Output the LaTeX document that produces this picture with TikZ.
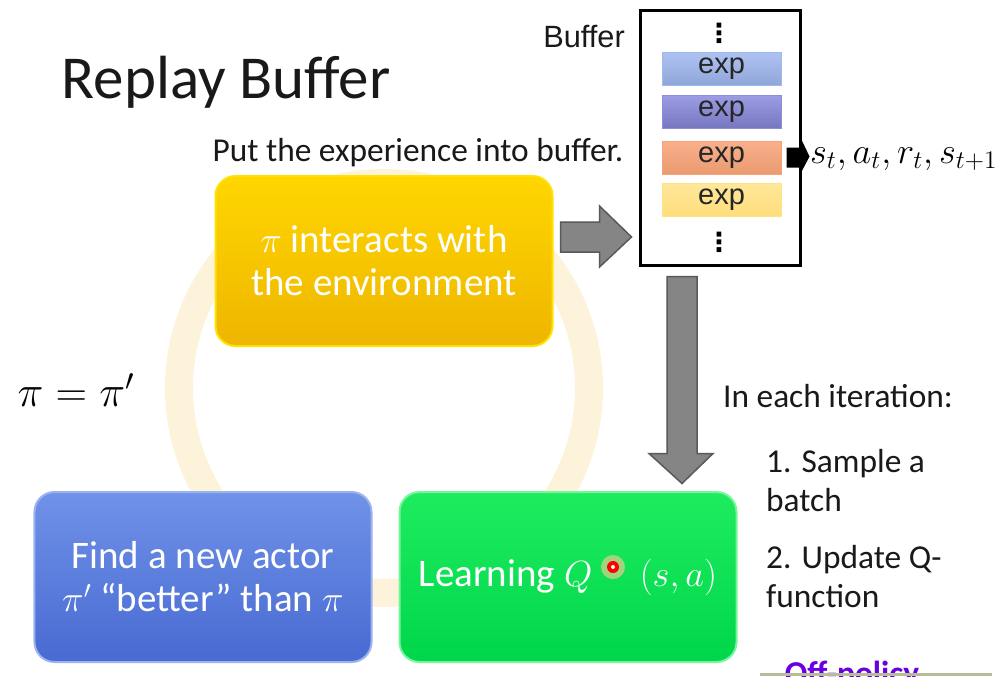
\documentclass[tikz,border=0pt]{standalone}
\usepackage{fontspec}
\setmainfont{Carlito}
\newfontfamily\arialfont{Liberation Sans}
\newfontfamily\dotsfont{DejaVu Sans}
\usepackage{xcolor}
\usepackage{tikz}
\usetikzlibrary{calc, positioning}

\definecolor{envtop}{RGB}{255,214,0}
\definecolor{envbot}{RGB}{238,182,0}
\definecolor{actortop}{RGB}{112,146,232}
\definecolor{actorbot}{RGB}{72,106,210}
\definecolor{learntop}{RGB}{30,236,95}
\definecolor{learnbot}{RGB}{0,214,75}
\definecolor{ringcol}{RGB}{252,243,218}
\definecolor{expblue}{RGB}{160,184,240}
\definecolor{exppurple}{RGB}{140,140,226}
\definecolor{exporange}{RGB}{247,162,118}
\definecolor{expyellow}{RGB}{255,226,130}
\definecolor{offpolicy}{RGB}{104,0,225}
\definecolor{stripcol}{RGB}{182,188,156}

\tikzstyle{stage} = [rectangle, rounded corners=4mm, minimum width=67.4mm, minimum height=34mm, text centered, align=center, text=white, line width=0.4mm, font=\fontsize{22.2}{24.5}\selectfont]
\tikzstyle{expbox} = [rectangle, minimum width=23.8mm, minimum height=6.6mm, inner sep=0pt, line width=0.2mm, text=black!85, font=\arialfont\fontsize{16.5}{16.5}\selectfont]
\tikzstyle{blockarrow} = [draw=black!65, fill=black!48, line width=0.3mm, line join=miter]
\tikzstyle{note} = [align=left, text=black!90, font=\fontsize{19}{22.2}\selectfont]
\tikzstyle{moredots} = [inner sep=0pt, font=\dotsfont\bfseries\fontsize{15}{15}\selectfont]

\begin{document}
\begin{tikzpicture}[x=0.2mm, y=-0.2mm]
\useasboundingbox (0,0) rectangle (1000,676);
\clip (0,0) rectangle (1000,676);
\fill [white] (0,0) rectangle (1000,676);

% faint cycle behind the stages
\draw [ringcol, line width=5.6mm] (384,388) circle (205);

% Nodes
\node (title) [text=black!90, font=\fontsize{34.7}{40}\selectfont] at (226,82) {Replay Buffer};
\node (env) [stage, top color=envtop, bottom color=envbot, draw=envtop!70!yellow] at (384,261) {$\pi$ interacts with\\the environment};
\node (actor) [stage, top color=actortop, bottom color=actorbot, draw=actortop!70!white] at (203,577) {Find a new actor\\$\pi'$ “better” than $\pi$};
\node (learn) [stage, top color=learntop, bottom color=learnbot, draw=learntop!60!white] at (568,577) {Learning $Q$\hspace{27pt}$(s,a)$};
\node (update) [font=\fontsize{25}{27}\selectfont] at (76,390) {$\pi = \pi'$};

\node (buffer) [rectangle, draw=black, line width=0.6mm, minimum width=32mm, minimum height=51mm] at (720,137.5) {};
\node (bufname) [font=\arialfont\fontsize{17.5}{18}\selectfont, text=black!90] at (584,37) {Buffer};
\node (topdots) [moredots] at (719,33) {⋮};
\node (exp1) [expbox, top color=expblue!85!white, bottom color=expblue!90!black, draw=expblue] at (721.5,69) {exp};
\node (exp2) [expbox, top color=exppurple!85!white, bottom color=exppurple!85!black, draw=exppurple] at (721.5,111.5) {exp};
\node (exp3) [expbox, top color=exporange!85!white, bottom color=exporange!95!black, draw=exporange] at (721.5,158) {exp};
\node (exp4) [expbox, top color=expyellow!80!white, bottom color=expyellow!95!orange, draw=expyellow] at (721.5,199.5) {exp};
\node (botdots) [moredots] at (719,242) {⋮};
\node (tuple) [anchor=west, inner sep=1pt, font=\fontsize{20.5}{22}\selectfont] at (808,159) {$s_t, a_t, r_t, s_{t+1}$};

\node (putlabel) [note] at (418,153) {Put the experience into buffer.};
\node (iterlabel) [note] at (838,396) {In each iteration:};
\node (step1) [note, anchor=north west] at (760,443) {1. Sample a\\batch};
\node (step2) [note, anchor=north west] at (760,539) {2. Update Q-\\function};
\node (offlabel) [note, text=offpolicy, font=\bfseries\fontsize{19}{22.2}\selectfont] at (852,675) {Off-policy};

% Arrows
\draw [blockarrow] ($(env.east)+(7,-39)$) -- ++(39,0) -- ++(0,-16) -- ++(32,31) -- ++(-32,30) -- ++(0,-15) -- ++(-39,0) -- cycle;
\draw [blockarrow] ($(buffer.south)+(-53,10)$) -- ++(30,0) -- ++(0,177) -- ++(16,0) -- ++(-31,30) -- ++(-33,-30) -- ++(18,0) -- cycle;
\fill [black] ($(buffer.east)+(-15,10)$) -- ++(13,0) -- ++(0,-12) -- ++(10,21) -- ++(-10,19) -- ++(0,-8) -- ++(-13,0) -- cycle;

% pointer spot
\fill [orange!40, opacity=0.6] (613,567) circle (12);
\fill [red] (613,567) circle (6);
\fill [white] (613,567) circle (2);

\fill [stripcol] (760,673) rectangle (992,676);

\end{tikzpicture}
\end{document}
